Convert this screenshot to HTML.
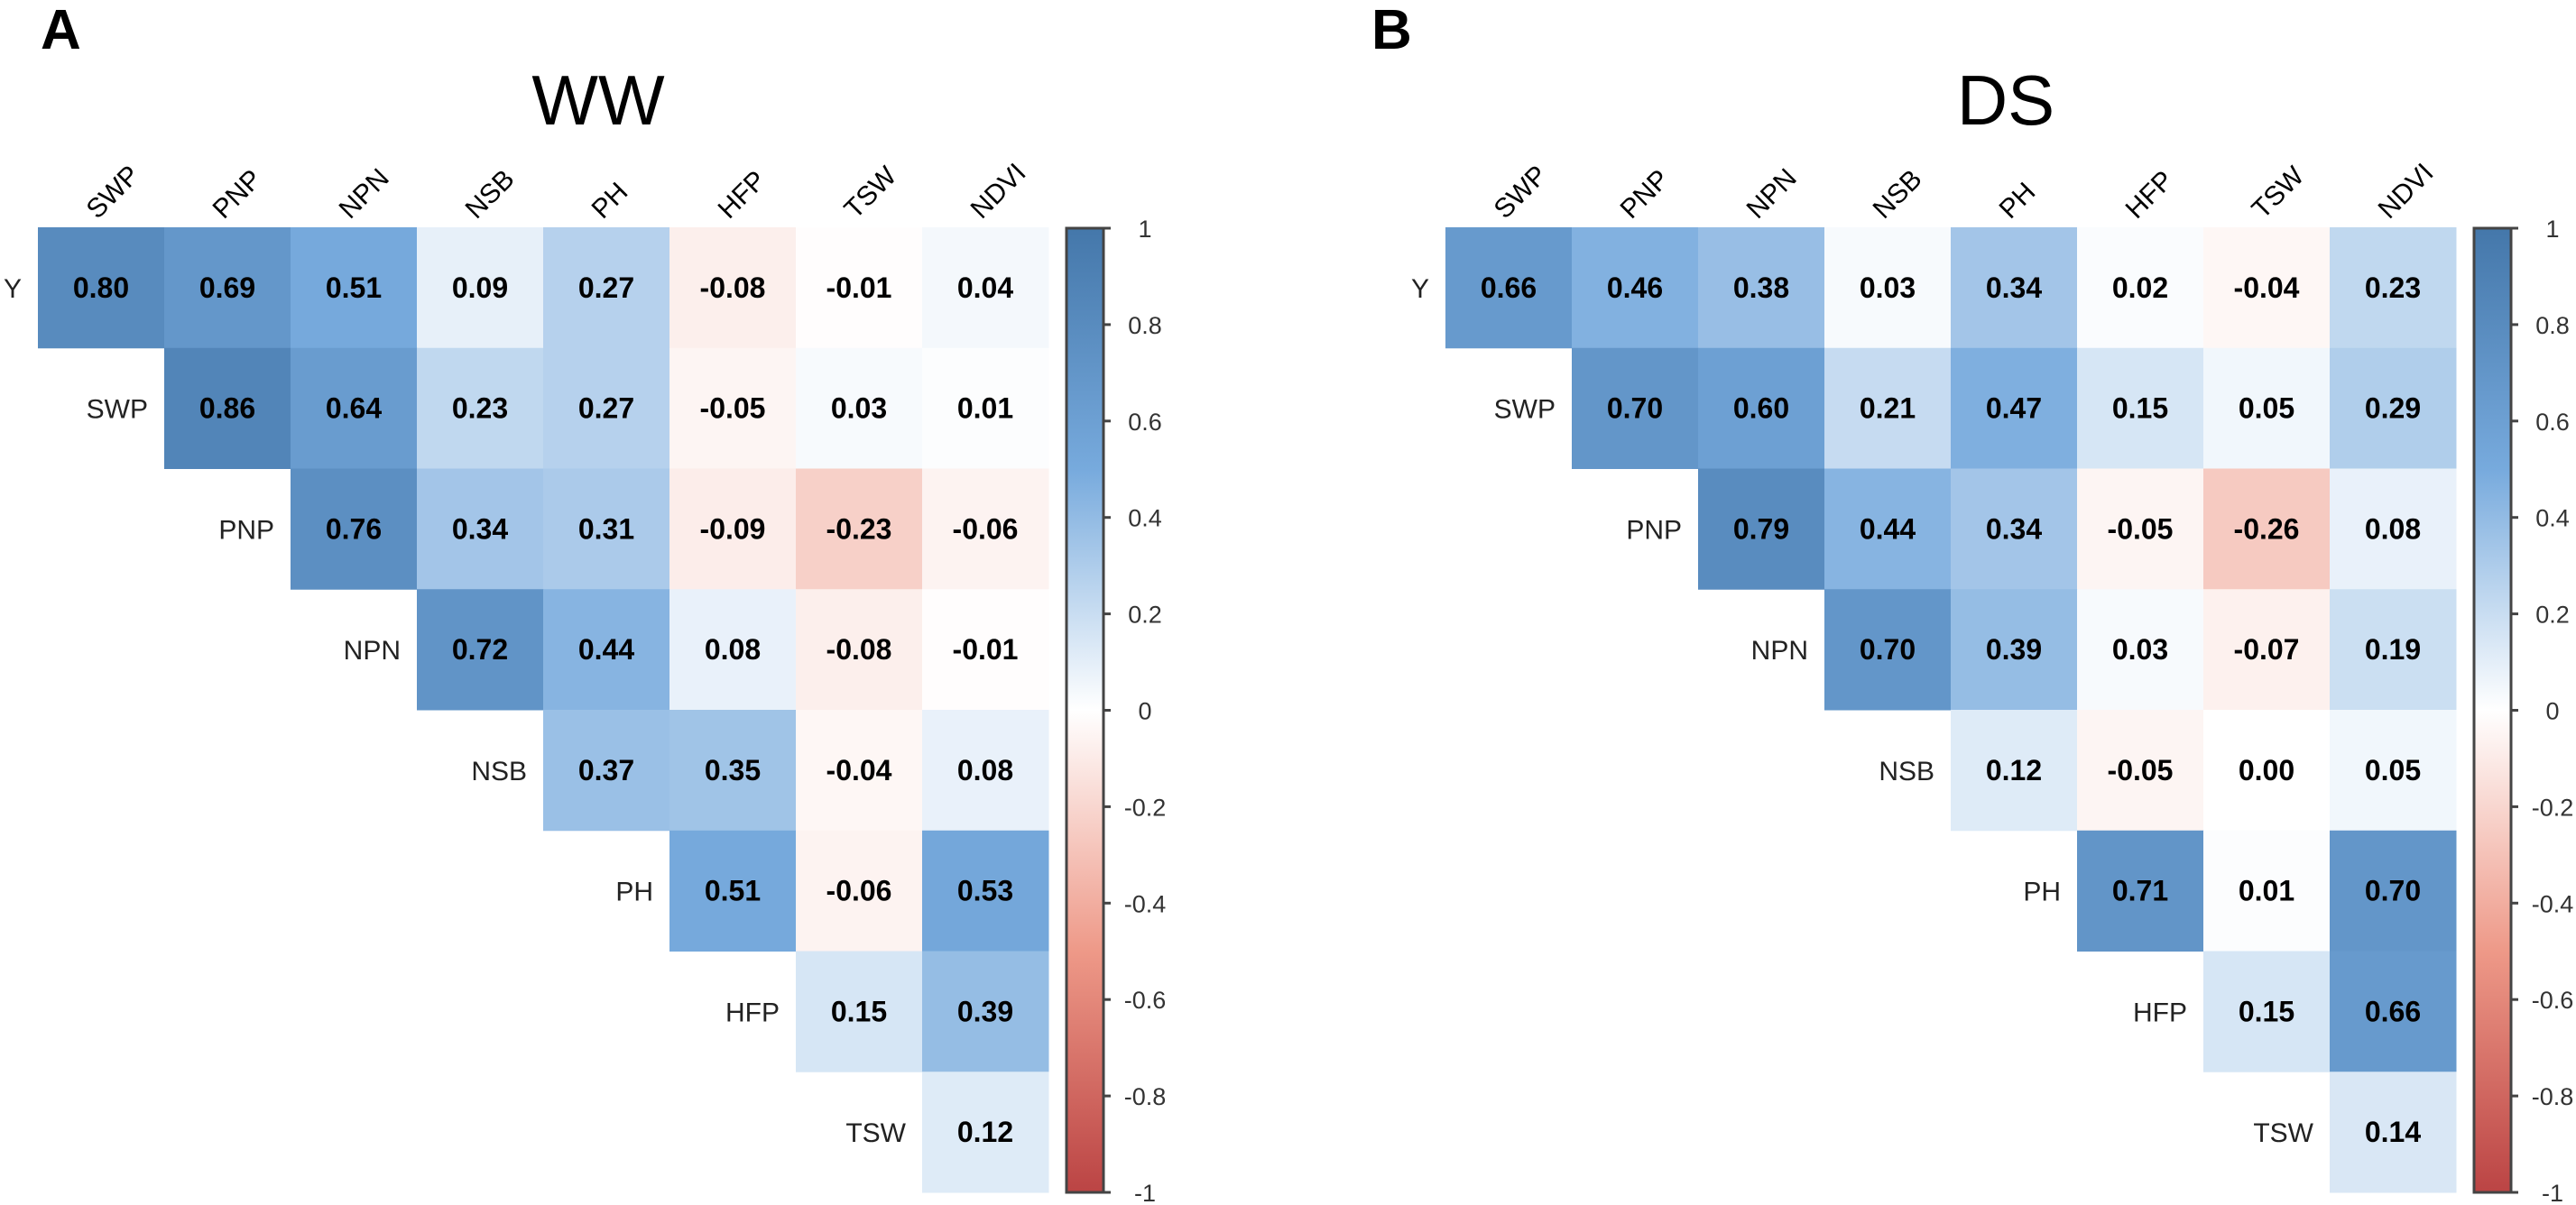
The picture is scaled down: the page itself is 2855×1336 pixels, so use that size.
<!DOCTYPE html>
<html><head><meta charset="utf-8"><style>body{margin:0;background:#fff}svg{display:block}</style></head>
<body>
<svg id="c" width="2855" height="1336" xmlns="http://www.w3.org/2000/svg" font-family="Liberation Sans, Arial, sans-serif">
<defs><linearGradient id="g" x1="0" y1="1" x2="0" y2="0">
<stop offset="0" stop-color="#BB4444"/><stop offset="0.25" stop-color="#EE9988"/><stop offset="0.5" stop-color="#FFFFFF"/><stop offset="0.75" stop-color="#77AADD"/><stop offset="1" stop-color="#4477AA"/></linearGradient></defs>
</svg>
<script>
const colLabels=["SWP","PNP","NPN","NSB","PH","HFP","TSW","NDVI"];
const rowLabels=["Y","SWP","PNP","NPN","NSB","PH","HFP","TSW"];
const tickLabels=["1","0.8","0.6","0.4","0.2","0","-0.2","-0.4","-0.6","-0.8","-1"];
const tickValues=[1,0.8,0.6,0.4,0.2,0,-0.2,-0.4,-0.6,-0.8,-1];
const wwValues=[[0.80,0.69,0.51,0.09,0.27,-0.08,-0.01,0.04],[0.86,0.64,0.23,0.27,-0.05,0.03,0.01],[0.76,0.34,0.31,-0.09,-0.23,-0.06],[0.72,0.44,0.08,-0.08,-0.01],[0.37,0.35,-0.04,0.08],[0.51,-0.06,0.53],[0.15,0.39],[0.12]];
const dsValues=[[0.66,0.46,0.38,0.03,0.34,0.02,-0.04,0.23],[0.70,0.60,0.21,0.47,0.15,0.05,0.29],[0.79,0.44,0.34,-0.05,-0.26,0.08],[0.70,0.39,0.03,-0.07,0.19],[0.12,-0.05,0.00,0.05],[0.71,0.01,0.70],[0.15,0.66],[0.14]];
const svg=document.getElementById('c');const NS='http://www.w3.org/2000/svg';
const stops=[[-1,[0xBB,0x44,0x44]],[-0.5,[0xEE,0x99,0x88]],[0,[255,255,255]],[0.5,[0x77,0xAA,0xDD]],[1,[0x44,0x77,0xAA]]];
function color(v){for(let i=0;i<4;i++){const a=stops[i],b=stops[i+1];if(v<=b[0]){const t=(v-a[0])/(b[0]-a[0]);return 'rgb('+a[1].map((c,k)=>Math.round(c+(b[1][k]-c)*t)).join(',')+')';}}return 'rgb(68,119,170)';}
function mk(tag,attrs,parent,txt){const e=document.createElementNS(NS,tag);for(const k in attrs)e.setAttribute(k,attrs[k]);if(txt!==undefined)e.textContent=txt;parent.appendChild(e);return e;}
function panel(key,letter,title,vals,x0,letterX){
  const cw=140,ch=133.75,y0=252;
  const xs=j=>x0+j*cw, ys=i=>y0+i*ch;
  const g=mk('g',{},svg);
  const L=mk('text',{x:letterX,y:54,'font-size':62,'font-weight':'bold'},g,letter);
  const T=mk('text',{x:x0+621,y:138,'font-size':78,'text-anchor':'middle'},g,title);
  colLabels.forEach((c,j)=>{const cx=xs(j)+cw/2-4;const t=mk('text',{x:cx,y:y0-8,'font-size':30,transform:'rotate(-45 '+cx+' '+(y0-8)+')'},g,c);});
  vals.forEach((row,i)=>{
    const rl=mk('text',{x:xs(i)-18,y:ys(i)+ch/2+11,'font-size':30,'text-anchor':'end',fill:'#222'},g,rowLabels[i]);
    row.forEach((v,k)=>{const j=i+k;
      const r=mk('rect',{x:xs(j),y:ys(i),width:cw+0.5,height:ch+0.5,fill:color(v)},g);
      const t=mk('text',{x:xs(j)+cw/2,y:ys(i)+ch/2+11,'font-size':32,'font-weight':'bold','text-anchor':'middle'},g,v.toFixed(2));});
  });
  const bx=x0+8*cw+20,bw=41,top=253,bot=1322;const yv=v=>top+(1-v)/2*(bot-top);
  const cb=mk('rect',{x:bx,y:top,width:bw,height:bot-top,fill:'url(#g)',stroke:'#444','stroke-width':3},g);
  tickValues.forEach((v,i)=>{mk('line',{x1:bx+bw,x2:bx+bw+8,y1:yv(v),y2:yv(v),stroke:'#444','stroke-width':3},g);
    const t=mk('text',{x:bx+bw+46,y:yv(v)+10,'font-size':27,'text-anchor':'middle',fill:'#333'},g,tickLabels[i]);});
}
panel('ww','A','WW',wwValues,42,45);
panel('ds','B','DS',dsValues,1602,1520);
</script>
</body></html>
